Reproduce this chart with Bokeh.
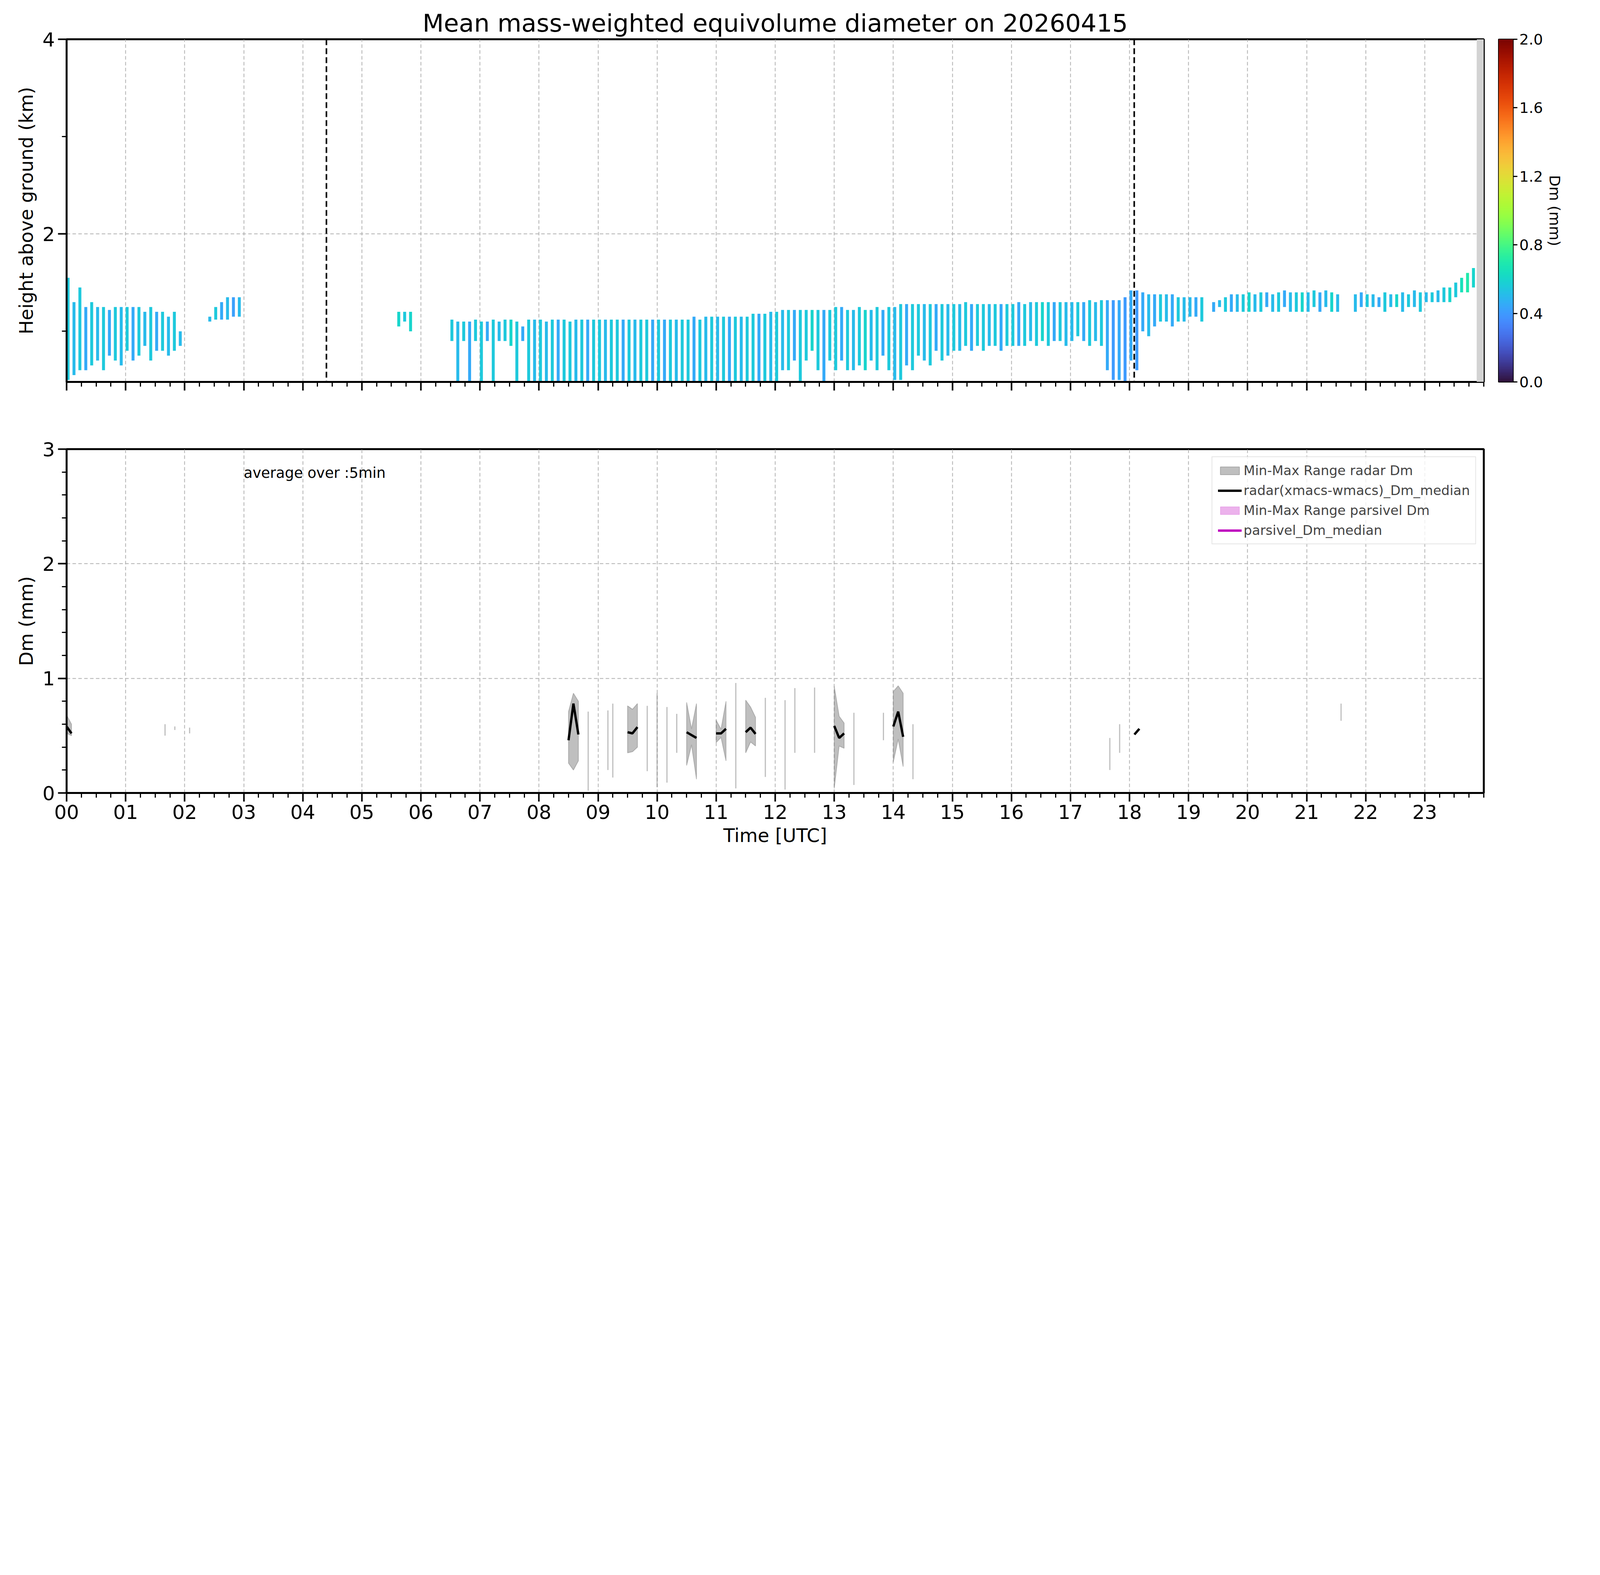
import numpy as np
from bokeh.plotting import figure
from bokeh.layouts import column, row
from bokeh.models import (FixedTicker, LinearColorMapper, Span, BoxAnnotation, Legend, LegendItem, Label, ColumnDataSource)
from bokeh.palettes import Turbo256
from bokeh.embed import file_html
from bokeh.resources import INLINE

TITLE = "Mean mass-weighted equivolume diameter on 20260415"
HOUR_LABELS = ["%02d" % h for h in range(24)]
SLOT_STEP = 0.1  # hours per radar slot

# radar echo top/bottom per 6-minute slot (km), 0 = no echo; one row per hour
TOP = [
 [1.55,1.3,1.45,1.25,1.3,1.25,1.25,1.22,1.25,1.25],
 [1.25,1.25,1.25,1.2,1.25,1.2,1.2,1.15,1.2,1.0],
 [0,0,0,0,1.15,1.25,1.3,1.35,1.35,1.35],
 [0]*10, [0]*10,
 [0,0,0,0,0,0,1.2,1.2,1.2,0],
 [0,0,0,0,0,1.12,1.1,1.1,1.1,1.12],
 [1.1,1.1,1.12,1.1,1.12,1.12,1.1,1.05,1.12,1.12],
 [1.12,1.1,1.12,1.12,1.12,1.1,1.12,1.12,1.12,1.12],
 [1.12,1.12,1.12,1.12,1.12,1.12,1.12,1.12,1.12,1.12],
 [1.12,1.12,1.12,1.12,1.12,1.12,1.15,1.12,1.15,1.15],
 [1.15,1.15,1.15,1.15,1.15,1.15,1.18,1.18,1.18,1.2],
 [1.2,1.22,1.22,1.22,1.22,1.22,1.22,1.22,1.22,1.22],
 [1.25,1.25,1.22,1.22,1.25,1.22,1.22,1.25,1.22,1.25],
 [1.25,1.28,1.28,1.28,1.28,1.28,1.28,1.28,1.28,1.28],
 [1.28,1.28,1.3,1.28,1.28,1.28,1.28,1.28,1.28,1.28],
 [1.28,1.3,1.28,1.3,1.3,1.3,1.3,1.3,1.3,1.3],
 [1.3,1.3,1.3,1.32,1.3,1.32,1.32,1.32,1.32,1.35],
 [1.42,1.42,1.4,1.38,1.38,1.38,1.38,1.38,1.35,1.35],
 [1.35,1.35,1.35,0,1.3,1.32,1.35,1.38,1.38,1.38],
 [1.4,1.38,1.4,1.4,1.38,1.4,1.42,1.4,1.4,1.4],
 [1.4,1.42,1.4,1.42,1.4,1.38,0,0,1.38,1.4],
 [1.38,1.38,1.35,1.4,1.38,1.38,1.4,1.38,1.42,1.4],
 [1.4,1.4,1.42,1.45,1.45,1.5,1.55,1.6,1.65,0],
]
BOT = [
 [0.5,0.55,0.6,0.6,0.65,0.7,0.6,0.75,0.7,0.65],
 [0.8,0.7,0.75,0.85,0.7,0.8,0.8,0.75,0.8,0.85],
 [0,0,0,0,1.1,1.12,1.12,1.12,1.15,1.15],
 [0]*10, [0]*10,
 [0,0,0,0,0,0,1.05,1.1,1.0,0],
 [0,0,0,0,0,0.9,0.48,0.9,0.48,0.9],
 [0.48,0.9,0.48,0.9,0.9,0.85,0.48,0.9,0.48,0.48],
 [0.48,0.48,0.48,0.48,0.48,0.48,0.48,0.48,0.48,0.48],
 [0.48,0.48,0.48,0.48,0.48,0.48,0.48,0.48,0.48,0.48],
 [0.48,0.48,0.48,0.48,0.48,0.48,0.48,0.48,0.48,0.48],
 [0.48,0.48,0.48,0.48,0.48,0.48,0.48,0.48,0.48,0.48],
 [0.48,0.6,0.6,0.7,0.48,0.7,0.8,0.6,0.48,0.7],
 [0.6,0.7,0.6,0.6,0.65,0.6,0.7,0.6,0.75,0.6],
 [0.5,0.5,0.65,0.6,0.75,0.7,0.65,0.8,0.7,0.75],
 [0.8,0.8,0.85,0.8,0.85,0.8,0.85,0.85,0.8,0.85],
 [0.85,0.85,0.85,0.9,0.85,0.9,0.85,0.9,0.9,0.85],
 [0.9,0.95,0.9,0.85,0.9,0.85,0.6,0.5,0.5,0.48],
 [0.7,0.6,1.0,0.95,1.05,1.1,1.1,1.05,1.1,1.1],
 [1.15,1.15,1.1,0,1.2,1.25,1.2,1.2,1.2,1.2],
 [1.2,1.2,1.2,1.25,1.2,1.2,1.25,1.2,1.2,1.2],
 [1.2,1.25,1.2,1.25,1.2,1.2,0,0,1.2,1.25],
 [1.25,1.25,1.25,1.2,1.25,1.25,1.2,1.25,1.25,1.2],
 [1.3,1.3,1.3,1.3,1.3,1.35,1.4,1.4,1.45,0],
]
DM = [
 [0.55,0.5,0.55,0.45,0.55,0.5,0.55,0.45,0.55,0.5],
 [0.55,0.45,0.55,0.5,0.55,0.45,0.55,0.5,0.55,0.5],
 [0.55,0.55,0.55,0.55,0.5,0.55,0.45,0.5,0.42,0.5],
 [0.55]*10, [0.55]*10,
 [0.55,0.55,0.55,0.55,0.55,0.55,0.6,0.55,0.6,0.55],
 [0.55,0.55,0.55,0.55,0.55,0.55,0.5,0.55,0.45,0.55],
 [0.55,0.45,0.55,0.5,0.55,0.6,0.55,0.45,0.55,0.5],
 [0.55,0.5,0.55,0.45,0.55,0.55,0.5,0.55,0.45,0.55],
 [0.55,0.5,0.55,0.55,0.45,0.55,0.5,0.55,0.55,0.45],
 [0.55,0.45,0.55,0.5,0.55,0.55,0.45,0.55,0.5,0.55],
 [0.5,0.55,0.45,0.55,0.5,0.55,0.55,0.45,0.55,0.5],
 [0.55,0.5,0.55,0.45,0.55,0.55,0.6,0.55,0.45,0.55],
 [0.55,0.45,0.55,0.5,0.55,0.6,0.5,0.55,0.45,0.55],
 [0.5,0.55,0.45,0.55,0.55,0.5,0.55,0.45,0.55,0.5],
 [0.55,0.5,0.55,0.45,0.55,0.55,0.5,0.55,0.45,0.55],
 [0.55,0.45,0.55,0.5,0.55,0.6,0.55,0.45,0.55,0.5],
 [0.5,0.55,0.45,0.55,0.5,0.55,0.45,0.4,0.45,0.4],
 [0.45,0.4,0.45,0.5,0.45,0.55,0.5,0.45,0.55,0.5],
 [0.5,0.45,0.55,0.5,0.45,0.5,0.55,0.45,0.5,0.55],
 [0.6,0.5,0.55,0.45,0.5,0.55,0.45,0.5,0.55,0.6],
 [0.5,0.55,0.45,0.5,0.6,0.5,0.55,0.55,0.5,0.45],
 [0.55,0.5,0.45,0.55,0.5,0.6,0.5,0.55,0.5,0.55],
 [0.5,0.55,0.5,0.55,0.6,0.55,0.65,0.7,0.6,0.55],
]
DASHED_TIMES = [4.4, 18.08]
MISSING_START = 23.88

# bottom panel: radar Dm min/max/median groups (5-min averages)
RADAR_T = [[0.0,0.083],[8.5,8.583,8.667],[9.5,9.583,9.667],[10.5,10.583,10.667],
           [11.0,11.083,11.167],[11.5,11.583,11.667],[13.0,13.083,13.167],[14.0,14.083,14.167],[18.083,18.167]]
RADAR_MIN = [[0.52,0.5],[0.26,0.2,0.28],[0.35,0.36,0.4],[0.24,0.42,0.12],
             [0.44,0.485,0.28],[0.35,0.445,0.41],[0.04,0.41,0.39],[0.27,0.47,0.23],[0.51,0.56]]
RADAR_MAX = [[0.68,0.6],[0.71,0.87,0.8],[0.76,0.73,0.78],[0.79,0.56,0.78],
             [0.635,0.556,0.8],[0.81,0.75,0.66],[0.93,0.67,0.61],[0.885,0.935,0.87],[0.51,0.56]]
RADAR_MED = [[0.58,0.52],[0.46,0.78,0.51],[0.53,0.52,0.575],[0.53,0.505,0.48],
             [0.52,0.52,0.56],[0.53,0.57,0.515],[0.585,0.48,0.52],[0.58,0.71,0.49],[0.51,0.56]]
SINGLE_T = [1.667,1.833,2.083,8.833,9.167,9.25,9.833,10.0,10.167,10.333,11.333,11.833,
            12.167,12.333,12.667,13.333,13.833,14.333,17.667,17.833,21.583]
SINGLE_MIN = [0.5,0.55,0.52,0.02,0.2,0.135,0.19,0.05,0.09,0.35,0.04,0.14,
              0.03,0.35,0.35,0.07,0.46,0.12,0.2,0.35,0.63]
SINGLE_MAX = [0.6,0.58,0.57,0.71,0.72,0.78,0.76,0.87,0.75,0.69,0.96,0.83,
              0.81,0.915,0.92,0.70,0.70,0.6,0.48,0.6,0.78]

FONT = "DejaVu Sans"
S = 0.55
def px(v):
    return int(round(v * S))
def fs(v):
    return "%dpx" % px(v)

mapper = LinearColorMapper(palette=Turbo256, low=0, high=2)

def style(p, ylabel, ymajor, yminor, show_x):
    p.outline_line_color = "black"; p.outline_line_width = 5
    p.xaxis.ticker = FixedTicker(ticks=list(range(24)), minor_ticks=[i*0.25 for i in range(97)])
    if show_x:
        p.xaxis.major_label_overrides = {i: HOUR_LABELS[i] for i in range(24)}
        p.xaxis.axis_label = "Time [UTC]"
    else:
        p.xaxis.major_label_overrides = {i: " " for i in range(24)}
    p.yaxis.ticker = FixedTicker(ticks=ymajor, minor_ticks=yminor)
    for ax in p.axis:
        ax.axis_line_width = 5
        ax.major_tick_line_width = 4; ax.minor_tick_line_width = 3
        ax.major_tick_out = px(40); ax.major_tick_in = 0
        ax.minor_tick_out = px(22); ax.minor_tick_in = 0
        ax.major_label_text_font = FONT; ax.major_label_text_font_size = fs(90)
        ax.major_label_text_color = "black"
        ax.axis_label_text_font = FONT; ax.axis_label_text_font_size = fs(88)
        ax.axis_label_text_font_style = "normal"; ax.axis_label_text_color = "black"
        ax.major_label_standoff = px(14); ax.axis_label_standoff = px(20)
    p.yaxis.axis_label = ylabel
    for g in p.grid:
        g.grid_line_color = "#b0b0b0"; g.grid_line_width = 2; g.grid_line_dash = "9 6"

# ---- top panel
p1 = figure(frame_width=px(6597), frame_height=px(1595), x_range=(0, 24), y_range=(0.48, 4),
            output_backend="svg", toolbar_location=None, min_border_left=px(310),
            min_border_right=px(35), min_border_top=px(182), min_border_bottom=px(150))
p1.title.text = TITLE; p1.title.text_font = FONT; p1.title.text_font_size = fs(115)
p1.title.text_font_style = "normal"; p1.title.align = "center"; p1.title.text_color = "black"
left, right, tops, bots, dms = [], [], [], [], []
for h in range(24):
    for k in range(10):
        if TOP[h][k] > 0:
            t = h + k * SLOT_STEP
            left.append(t); right.append(t + SLOT_STEP * 0.5)
            tops.append(TOP[h][k]); bots.append(BOT[h][k]); dms.append(DM[h][k])
src = ColumnDataSource(dict(left=left, right=right, top=tops, bottom=bots, dm=dms))
p1.quad(left="left", right="right", top="top", bottom="bottom", source=src,
        fill_color={"field": "dm", "transform": mapper}, line_color=None)
p1.add_layout(BoxAnnotation(left=MISSING_START, right=24, fill_color="#d3d3d3", fill_alpha=1, line_color=None))
for t in DASHED_TIMES:
    p1.add_layout(Span(location=t, dimension="height", line_color="black", line_width=4, line_dash="15 8"))
style(p1, "Height above ground (km)", [2, 4], [1, 3], False)

# ---- colorbar
cb = figure(frame_width=px(67), frame_height=px(1595), x_range=(0, 1), y_range=(0, 2),
            output_backend="svg", toolbar_location=None, y_axis_location="right",
            min_border_left=px(35), min_border_right=px(40), min_border_top=px(182), min_border_bottom=px(150))
cb.image(image=[np.linspace(0, 2, 256).reshape(-1, 1)], x=0, y=0, dw=1, dh=2, color_mapper=mapper)
cb.xaxis.visible = False
cb.grid.visible = False
cb.outline_line_color = "black"; cb.outline_line_width = 3
cb.yaxis.ticker = FixedTicker(ticks=[0, 0.4, 0.8, 1.2, 1.6, 2.0])
cb.yaxis.major_label_overrides = {0: "0.0", 0.4: "0.4", 0.8: "0.8", 1.2: "1.2", 1.6: "1.6", 2.0: "2.0"}
cb.yaxis.axis_label = "Dm (mm)"
cb.yaxis.axis_line_color = None
cb.yaxis.major_tick_out = px(20); cb.yaxis.major_tick_in = 0; cb.yaxis.major_tick_line_width = 3
cb.yaxis.minor_tick_line_color = None
cb.yaxis.major_label_text_font = FONT; cb.yaxis.major_label_text_font_size = fs(70)
cb.yaxis.major_label_text_color = "black"
cb.yaxis.axis_label_text_font = FONT; cb.yaxis.axis_label_text_font_size = fs(70)
cb.yaxis.axis_label_text_font_style = "normal"; cb.yaxis.axis_label_text_color = "black"

# ---- bottom panel
p2 = figure(frame_width=px(6597), frame_height=px(1600), x_range=(0, 24), y_range=(0, 3),
            output_backend="svg", toolbar_location=None, min_border_left=px(310),
            min_border_right=px(35), min_border_top=px(148), min_border_bottom=px(330))
xs = [t + t[::-1] for t in RADAR_T]
ys = [mx + mn[::-1] for mn, mx in zip(RADAR_MIN, RADAR_MAX)]
r_band = p2.patches(xs=xs, ys=ys, fill_color="gray", fill_alpha=0.5, line_color="gray", line_alpha=0.5, line_width=2)
p2.segment(x0=SINGLE_T, y0=SINGLE_MIN, x1=SINGLE_T, y1=SINGLE_MAX, line_color="gray", line_alpha=0.5, line_width=3)
r_med = p2.multi_line(xs=RADAR_T, ys=RADAR_MED, line_color="black", line_width=6)
r_pband = p2.patches(xs=[[np.nan]], ys=[[np.nan]], fill_color="#bf00bf", fill_alpha=0.3, line_color="#bf00bf", line_alpha=0.3)
r_pmed = p2.line(x=[np.nan, np.nan], y=[np.nan, np.nan], line_color="#bf00bf", line_width=6)
legend = Legend(items=[LegendItem(label="Min-Max Range radar Dm", renderers=[r_band]),
                       LegendItem(label="radar(xmacs-wmacs)_Dm_median", renderers=[r_med]),
                       LegendItem(label="Min-Max Range parsivel Dm", renderers=[r_pband]),
                       LegendItem(label="parsivel_Dm_median", renderers=[r_pmed])],
                location="top_right", label_text_font=FONT, label_text_font_size=fs(62),
                glyph_width=px(110), glyph_height=px(45), label_height=px(60), spacing=px(20),
                padding=px(25), margin=px(35), border_line_color="#cccccc", border_line_width=2,
                background_fill_alpha=0.8)
p2.add_layout(legend)
p2.add_layout(Label(x=3.0, y=2.72, text="average over :5min", text_font=FONT,
                    text_font_size=fs(68), text_color="black"))
style(p2, "Dm (mm)", [0, 1, 2, 3], [i * 0.2 for i in range(16)], True)

layout = column(row(p1, cb), p2)
open("out.html", "w").write(file_html(layout, INLINE))
